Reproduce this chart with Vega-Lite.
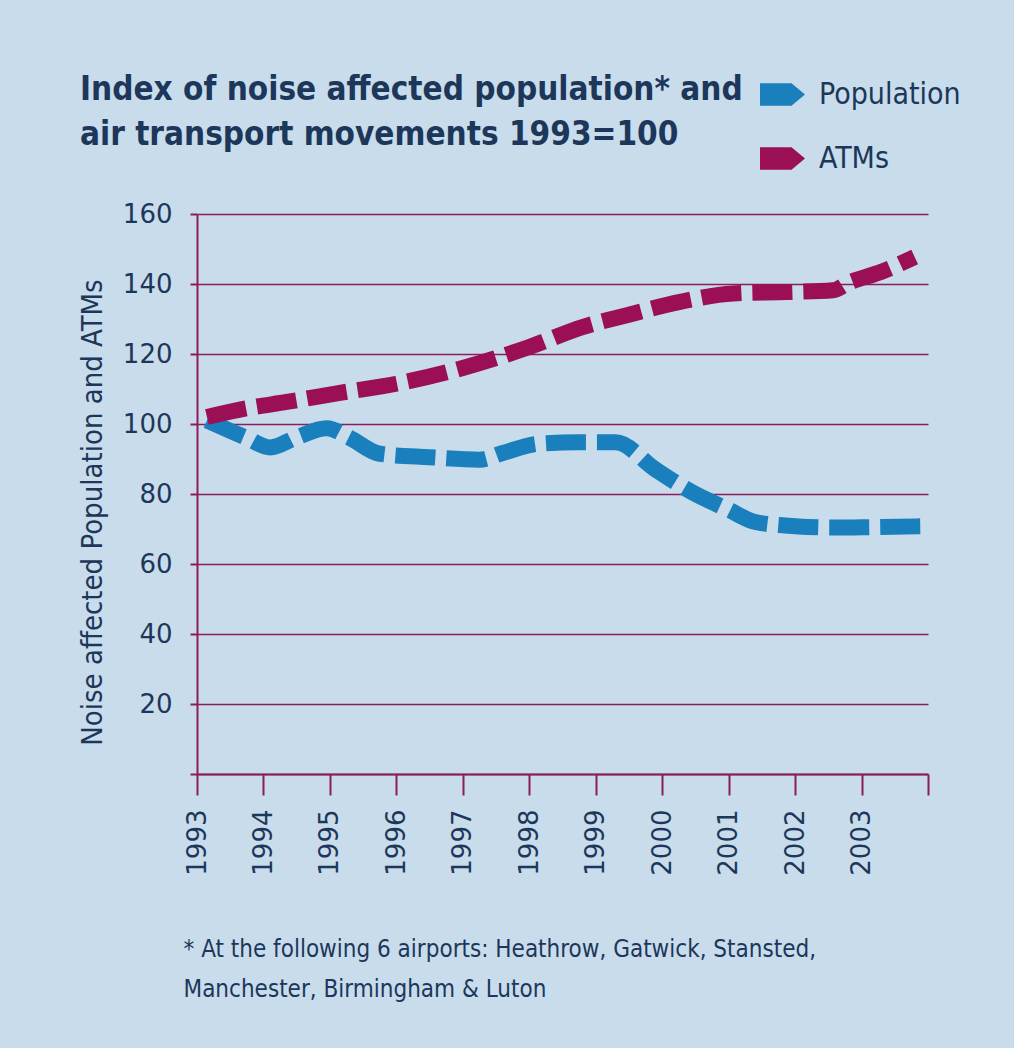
{
  "$schema": "https://vega.github.io/schema/vega-lite/v6.json",
  "width": 731,
  "height": 560,
  "autosize": {"type": "none"},
  "padding": {"left": 197, "top": 214, "right": 86, "bottom": 274},
  "background": "#c8dcec",
  "config": {
    "view": {"stroke": null},
    "font": "Liberation Sans Narrow, DejaVu Sans Condensed, Roboto, sans-serif"
  },
  "title": {
    "text": ["Index of noise affected population* and", "air transport movements 1993=100"],
    "anchor": "start",
    "frame": "group",
    "dx": -117,
    "dy": 140,
    "offset": 60,
    "fontSize": 33,
    "lineHeight": 45,
    "fontWeight": "bold",
    "color": "#1c3759",
    "font": "Liberation Sans Narrow, DejaVu Sans Condensed, Roboto, sans-serif"
  },
  "data": {
    "values": [
      {"series": "Population", "year": 1993.15, "index": 101},
      {"series": "Population", "year": 1993.75, "index": 96},
      {"series": "Population", "year": 1994.1, "index": 93.3},
      {"series": "Population", "year": 1994.5, "index": 96.2},
      {"series": "Population", "year": 1994.95, "index": 98.8},
      {"series": "Population", "year": 1995.3, "index": 96},
      {"series": "Population", "year": 1995.75, "index": 91.5},
      {"series": "Population", "year": 1996.5, "index": 90.5},
      {"series": "Population", "year": 1997.25, "index": 89.8},
      {"series": "Population", "year": 1997.6, "index": 91.7},
      {"series": "Population", "year": 1998.15, "index": 94.4},
      {"series": "Population", "year": 1998.75, "index": 94.8},
      {"series": "Population", "year": 1999.3, "index": 94.8},
      {"series": "Population", "year": 1999.9, "index": 87},
      {"series": "Population", "year": 2000.45, "index": 80.5},
      {"series": "Population", "year": 2001.0, "index": 75.5},
      {"series": "Population", "year": 2001.4, "index": 72},
      {"series": "Population", "year": 2002.0, "index": 70.8},
      {"series": "Population", "year": 2002.6, "index": 70.4},
      {"series": "Population", "year": 2003.0, "index": 70.5},
      {"series": "Population", "year": 2003.99, "index": 70.8},
      {"series": "ATMs", "year": 1993.15, "index": 102},
      {"series": "ATMs", "year": 1993.75, "index": 104.5},
      {"series": "ATMs", "year": 1994.35, "index": 106.3},
      {"series": "ATMs", "year": 1995.15, "index": 108.9},
      {"series": "ATMs", "year": 1996.0, "index": 111.5},
      {"series": "ATMs", "year": 1997.0, "index": 116},
      {"series": "ATMs", "year": 1998.0, "index": 122},
      {"series": "ATMs", "year": 1998.8, "index": 127.7},
      {"series": "ATMs", "year": 1999.47, "index": 131.1},
      {"series": "ATMs", "year": 2000.27, "index": 134.9},
      {"series": "ATMs", "year": 2001.07, "index": 137.3},
      {"series": "ATMs", "year": 2001.88, "index": 137.7},
      {"series": "ATMs", "year": 2002.57, "index": 138.2},
      {"series": "ATMs", "year": 2002.8, "index": 140.3},
      {"series": "ATMs", "year": 2003.3, "index": 143.5},
      {"series": "ATMs", "year": 2003.8, "index": 147.7}
    ]
  },
  "mark": {
    "type": "line",
    "strokeWidth": 16,
    "strokeDash": [40, 11],
    "strokeCap": "butt",
    "interpolate": "monotone"
  },
  "encoding": {
    "x": {
      "field": "year",
      "type": "quantitative",
      "scale": {"domain": [1993, 2004], "nice": false, "zero": false},
      "axis": {
        "values": [1993, 1994, 1995, 1996, 1997, 1998, 1999, 2000, 2001, 2002, 2003, 2004],
        "format": "d",
        "labelExpr": "datum.value == 2004 ? '' : datum.label",
        "labelAngle": 270,
        "labelFont": "DejaVu Sans",
        "labelFontSize": 26,
        "labelColor": "#1c3759",
        "labelPadding": 14,
        "tickSize": 21,
        "tickColor": "#8c1d5c",
        "tickWidth": 2,
        "domainColor": "#8c1d5c",
        "domainWidth": 2,
        "grid": false,
        "title": ["* At the following 6 airports: Heathrow, Gatwick, Stansted,", "Manchester, Birmingham & Luton"],
        "titleAnchor": "start",
        "titleAlign": "left",
        "titleBaseline": "top",
        "titleX": -14,
        "titleY": 163,
        "titleFontSize": 24,
        "titleLineHeight": 40,
        "titleFontWeight": "normal",
        "titleColor": "#1c3759"
      }
    },
    "y": {
      "field": "index",
      "type": "quantitative",
      "scale": {"domain": [0, 160], "nice": false},
      "axis": {
        "values": [0, 20, 40, 60, 80, 100, 120, 140, 160],
        "labelExpr": "datum.value == 0 ? '' : datum.label",
        "labelFont": "DejaVu Sans",
        "labelFontSize": 26,
        "labelColor": "#1c3759",
        "labelPadding": 18,
        "tickSize": 7,
        "tickColor": "#8c1d5c",
        "tickWidth": 2,
        "domainColor": "#8c1d5c",
        "domainWidth": 2,
        "grid": true,
        "gridColor": "#8c1d5c",
        "gridWidth": 1.6,
        "gridOpacity": 1,
        "title": "Noise affected Population and ATMs",
        "titleFontSize": 29,
        "titleFontWeight": "normal",
        "titleColor": "#1c3759",
        "titlePadding": 15,
        "titleY": 298
      }
    },
    "color": {
      "field": "series",
      "type": "nominal",
      "scale": {"domain": ["Population", "ATMs"], "range": ["#1a7fbd", "#9a0f55"]},
      "legend": {
        "title": null,
        "orient": "none",
        "legendX": 563,
        "legendY": -142,
        "labelFontSize": 30,
        "labelColor": "#1c3759",
        "labelOffset": 14,
        "symbolType": "M-1,-0.5 L0.4,-0.5 L1,0 L0.4,0.5 L-1,0.5 Z",
        "symbolSize": 2025,
        "symbolStrokeWidth": 0,
        "rowPadding": 26,
        "encode": {
          "symbols": {"update": {"fill": {"scale": "color", "field": "value"}, "strokeWidth": {"value": 0}}}
        }
      }
    }
  }
}
